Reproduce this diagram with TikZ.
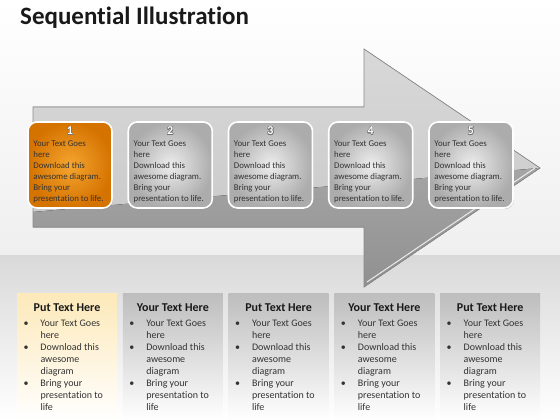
\documentclass[tikz,border=0pt]{standalone}
\usepackage{fontspec}
\setmainfont{Carlito}[Ligatures=NoCommon]
\usepackage{contour}
\contourlength{0.45pt}
\usetikzlibrary{positioning,shadows}
\definecolor{bgtop}{HTML}{EFEFEF}
\definecolor{bandgray}{HTML}{D9D9D9}
\definecolor{arrowlight}{HTML}{D8D8D8}
\definecolor{arrowmid}{HTML}{C6C6C6}
\definecolor{arrowdark}{HTML}{8E8E8E}
\definecolor{arrowedge}{HTML}{8A8A8A}
\definecolor{cardlight}{HTML}{EDEDED}
\definecolor{carddark}{HTML}{ACACAC}
\definecolor{orangelight}{HTML}{F5A530}
\definecolor{orangedark}{HTML}{D57300}
\definecolor{panelgray}{HTML}{BDBDBD}
\definecolor{panelcream}{HTML}{FDE9B9}
\definecolor{inkgray}{HTML}{333333}

\begin{document}
\begin{tikzpicture}[x=1pt,y=-1pt,
	card/.style={draw=white, line width=1.6pt, rounded corners=9pt,
		minimum width=84pt, minimum height=86pt, inner sep=0pt,
		drop shadow={shadow xshift=0.8pt, shadow yshift=-1.2pt, opacity=0.35}},
	graycard/.style={card, inner color=cardlight, outer color=carddark},
	orangecard/.style={card, inner color=orangelight, outer color=orangedark},
	cardnum/.style={inner sep=0pt, text=white, font=\fontsize{12}{12}\selectfont\bfseries},
	cardtext/.style={inner sep=0pt, align=left, text=inkgray, font=\fontsize{8.8}{11}\selectfont},
	panel/.style={minimum width=100pt, minimum height=127pt, inner sep=0pt, bottom color=white},
	graypanel/.style={panel, top color=panelgray},
	creampanel/.style={panel, top color=panelcream},
	panelhead/.style={inner sep=0pt, text=black!90, font=\fontsize{12}{12}\selectfont\bfseries},
	paneltext/.style={inner sep=0pt, text=inkgray, font=\fontsize{10}{12}\selectfont},
	title/.style={inner sep=0pt, text=black!90, font=\fontsize{25}{25}\selectfont\bfseries}]
	\useasboundingbox (0,0) rectangle (560,420);
	% background
	\fill[top color=white, bottom color=bgtop] (0,0) rectangle (560,255);
	\fill[top color=bandgray, bottom color=white] (0,255) rectangle (560,420);
	% title
	\node[title, anchor=west] (title) at (20,18) {Sequential Illustration};
	% arrow
	\fill[top color=arrowlight, bottom color=arrowmid]
		(33,107) -- (364,107) -- (364,49) -- (540,168) -- (364,287) -- (364,227) -- (33,227) -- cycle;
	\begin{scope}
		\clip (33,107) -- (364,107) -- (364,49) -- (540,168) -- (364,287) -- (364,227) -- (33,227) -- cycle;
		\fill[top color=arrowdark!80, bottom color=arrowdark] (33,212) -- (540,168) -- (540,300) -- (33,300) -- cycle;
	\end{scope}
	\draw[white, opacity=0.8, line width=1pt] (367,282) -- (535,168);
	\draw[arrowedge, line width=0.7pt, line join=miter]
		(33,107) -- (364,107) -- (364,49) -- (540,168) -- (364,287) -- (364,227) -- (33,227) -- cycle;
	% steps on the arrow
	\foreach \i/\look in {1/orangecard,2/graycard,3/graycard,4/graycard,5/graycard}{
		\node[\look] (card\i) at (70+100.25*\i-100.25,165) {};
		\node[cardnum, below=5.5pt of card\i.north] (num\i) {\contour{black!55}{\i}};
		\node[cardtext, below right=19pt and 6pt of card\i.north west] (text\i)
			{Your Text Goes\\here\\Download this\\awesome diagram.\\Bring your\\presentation to life.};
	}
	% text panels
	\foreach \i/\head/\look in {1/Put Text Here/creampanel,2/Your Text Here/graypanel,
		3/Put Text Here/graypanel,4/Your Text Here/graypanel,5/Put Text Here/graypanel}{
		\node[\look] (panel\i) at (67+105.8*\i-105.8,356.5) {};
		\node[panelhead, below=10.8pt of panel\i.north] (head\i) {\head};
		\node[paneltext, below right=24.6pt and 6.5pt of panel\i.north west] (list\i)
			{\begin{tabular}{@{}p{17pt}@{}l@{}}
				\textbullet & Your Text Goes\\
				& here\\
				\textbullet & Download this\\
				& awesome\\
				& diagram\\
				\textbullet & Bring your\\
				& presentation to\\
				& life
			\end{tabular}};
	}
\end{tikzpicture}
\end{document}
